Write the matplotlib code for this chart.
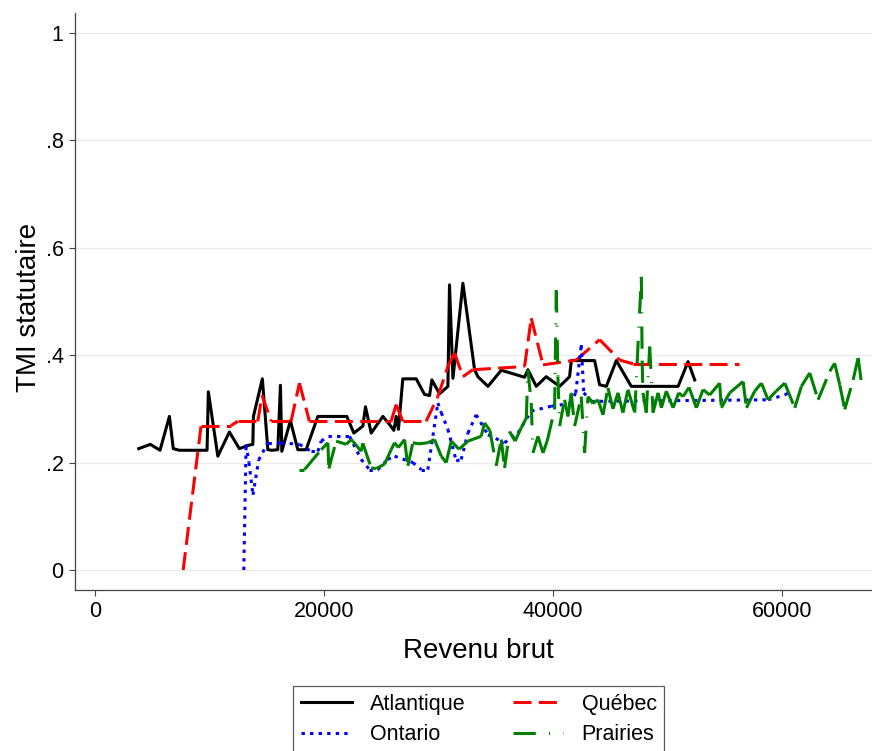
import matplotlib
matplotlib.use("Agg")
import matplotlib.pyplot as plt
from matplotlib.lines import Line2D
from matplotlib.collections import LineCollection

plt.rcParams['font.family'] = ['Liberation Sans', 'DejaVu Sans']

# ---- data ----
atl_x = [3820, 4830, 5680, 6500, 6840, 7370, 9790, 9900, 10730, 11740, 12610, 13350, 13790, 13840,
         14620, 15100, 15450, 15970, 16200, 16320, 17070, 17720, 18440, 19470, 22000, 22610, 23400,
         23630, 24130, 25150, 25730, 26110, 26310, 26510, 26890, 28060, 28790, 29230, 29430, 30100,
         30830, 30970, 31270, 32140, 33160, 33450, 34330, 35490, 37530, 37820, 38550, 39420, 40590,
         41460, 41610, 43650, 44080, 44670, 45540, 46850, 50940, 51810, 52390]
atl_y = [0.226, 0.234, 0.223, 0.286, 0.226, 0.223, 0.223, 0.332, 0.212, 0.257, 0.226, 0.232, 0.234, 0.286,
         0.356, 0.224, 0.223, 0.224, 0.344, 0.221, 0.278, 0.224, 0.224, 0.286, 0.286, 0.255, 0.268,
         0.304, 0.255, 0.286, 0.271, 0.260, 0.286, 0.262, 0.356, 0.356, 0.327, 0.325, 0.354, 0.328,
         0.342, 0.531, 0.357, 0.534, 0.373, 0.360, 0.342, 0.372, 0.359, 0.373, 0.342, 0.360, 0.342,
         0.360, 0.390, 0.390, 0.345, 0.342, 0.390, 0.342, 0.342, 0.388, 0.354]

que_x = [7700, 9270, 11890, 12470, 14220, 14600, 15390, 17130, 17860, 18730, 25870, 26310, 26890,
         28930, 29950, 30830, 31410, 32140, 33010, 37530, 38110, 39140, 42050, 44080, 45830, 47000, 56240]
que_y = [0.0, 0.269, 0.269, 0.277, 0.277, 0.325, 0.277, 0.277, 0.348, 0.277, 0.277, 0.308, 0.277,
         0.277, 0.323, 0.379, 0.404, 0.360, 0.373, 0.379, 0.469, 0.382, 0.391, 0.429, 0.391, 0.384, 0.384]

ont_x = [13000, 13200, 13450, 13800, 14300, 15100, 16260, 17860, 18880, 19470, 19760, 20340, 22230,
         23250, 23980, 24700, 25580, 26170, 27770, 28500, 29080, 29950, 30250, 30830, 31560, 31990,
         32580, 33300, 34330, 35780, 36950, 38110, 39860, 41500, 42000, 42480, 42700, 43360, 58800,
         60260, 60840]
ont_y = [0.0, 0.234, 0.200, 0.140, 0.205, 0.237, 0.237, 0.234, 0.221, 0.221, 0.240, 0.249, 0.249,
         0.206, 0.187, 0.187, 0.206, 0.212, 0.200, 0.187, 0.187, 0.311, 0.293, 0.262, 0.203, 0.206,
         0.255, 0.289, 0.252, 0.237, 0.255, 0.296, 0.305, 0.310, 0.330, 0.419, 0.330, 0.314, 0.317,
         0.326, 0.333]

pra_x = [17860, 18300, 19760, 20340, 20430, 21070, 21940, 22380, 22520, 23250, 23400, 24130, 24560,
         25290, 25870, 26170, 26500, 27040, 27330, 27770, 28300, 29080, 29660, 30250, 30680, 31120,
         31800, 32580, 33740, 34030, 34500, 35050, 35490, 35780, 36220, 36700, 37240, 37680, 37820,
         38110, 38260, 38700, 39140, 39500, 40150, 40300, 40440, 40590, 41020, 41320, 41600, 41900,
         42480, 42770, 43070, 43500, 43940, 44380, 44810, 45250, 45690, 46120, 46560, 47150, 47730,
         47800, 47870, 48160, 48460, 48750, 49190, 49480, 49910, 50500, 51000, 51370, 51900, 52540,
         53120, 53700, 54570, 54720, 55450, 56620, 56910, 57630, 58220, 58800, 59500, 60260, 61130,
         61710, 62440, 63170, 64190, 64620, 65060, 65500, 66230, 66670, 66960]
pra_y = [0.187, 0.187, 0.224, 0.237, 0.189, 0.240, 0.234, 0.243, 0.240, 0.221, 0.236, 0.190, 0.189,
         0.197, 0.224, 0.237, 0.228, 0.243, 0.194, 0.237, 0.235, 0.237, 0.243, 0.212, 0.200, 0.240,
         0.225, 0.240, 0.249, 0.274, 0.260, 0.194, 0.243, 0.190, 0.258, 0.240, 0.265, 0.283, 0.373,
         0.311, 0.218, 0.249, 0.218, 0.240, 0.299, 0.521, 0.360, 0.268, 0.317, 0.286, 0.330, 0.268,
         0.323, 0.218, 0.323, 0.310, 0.317, 0.289, 0.339, 0.300, 0.330, 0.293, 0.336, 0.293, 0.546,
         0.390, 0.330, 0.293, 0.416, 0.293, 0.330, 0.302, 0.333, 0.302, 0.330, 0.323, 0.340, 0.302,
         0.336, 0.326, 0.348, 0.302, 0.330, 0.351, 0.302, 0.333, 0.348, 0.317, 0.333, 0.348, 0.302,
         0.342, 0.367, 0.317, 0.370, 0.385, 0.345, 0.299, 0.354, 0.395, 0.348]

xticks = [0, 20000, 40000, 60000]
xtick_labels = ["0", "20000", "40000", "60000"]
yticks = [0, 0.2, 0.4, 0.6, 0.8, 1.0]
ytick_labels = ["0", ".2", ".4", ".6", ".8", "1"]
labels = ["Atlantique", "Québec", "Ontario", "Prairies"]

# ---- figure ----
fig = plt.figure(figsize=(8.72, 7.51), dpi=100)
ax = fig.add_axes([74.5/872, 1-590/751, 1-74.5/872, (590-12.7)/751])

lw = 2.2
styles = {
    'atl': dict(color='black', ls='-'),
    'que': dict(color='#ff0000', ls=(0, (5.9, 2.4))),
    'ont': dict(color='#0000ff', ls=(0, (1.1, 1.7))),
    'pra': dict(color='#008000', ls=(0, (7.3, 4.3, 0.35, 4.3))),
}

def draw(xs, ys, key, z):
    st = styles[key]
    if st['ls'] == '-':
        ax.plot(xs, ys, color=st['color'], lw=lw, zorder=z)
    else:
        # pattern restarts on each segment
        segs = [[(xs[i], ys[i]), (xs[i + 1], ys[i + 1])] for i in range(len(xs) - 1)]
        lc = LineCollection(segs, colors=st['color'], linewidths=lw, linestyles=[st['ls']],
                            capstyle='butt', zorder=z)
        ax.add_collection(lc)
    return Line2D([], [], color=st['color'], lw=lw, linestyle=st['ls'], dash_capstyle='butt')

h1 = draw(atl_x, atl_y, 'atl', 3)
h2 = draw(que_x, que_y, 'que', 4)
h3 = draw(ont_x, ont_y, 'ont', 5)
h4 = draw(pra_x, pra_y, 'pra', 6)

ax.set_xlim(-1791, 67880)
ax.set_ylim(-0.0372, 1.0378)
ax.set_xticks(xticks)
ax.set_xticklabels(xtick_labels)
ax.set_yticks(yticks)
ax.set_yticklabels(ytick_labels)
for y in yticks:
    ax.axhline(y, color='#eaeaea', lw=0.9, zorder=0)

for s in ['top', 'right']:
    ax.spines[s].set_visible(False)
for s in ['left', 'bottom']:
    ax.spines[s].set_color('#444444')
    ax.spines[s].set_linewidth(0.9)
ax.tick_params(axis='both', direction='out', length=4.3, width=0.8, color='#444444',
               labelsize=15.5, pad=3.5)

ax.set_xlabel("Revenu brut", fontsize=20, labelpad=11.5)
ax.set_ylabel("TMI statutaire", fontsize=20, labelpad=2.5)
ax.xaxis.label.set_x(0.507)
ax.yaxis.label.set_y(0.490)

leg = fig.legend([h1, h3, h2, h4], [labels[0], labels[2], labels[1], labels[3]],
                 ncol=2, loc='upper center', bbox_to_anchor=(478.9/872, 1-686/751),
                 fontsize=15.5, frameon=True, fancybox=False, handlelength=2.35,
                 handletextpad=0.85, columnspacing=2.2, labelspacing=0.45,
                 borderpad=0.35, borderaxespad=0)
leg.get_frame().set_edgecolor('#333333')
leg.get_frame().set_linewidth(0.9)

fig.savefig("out.png", dpi=100)
